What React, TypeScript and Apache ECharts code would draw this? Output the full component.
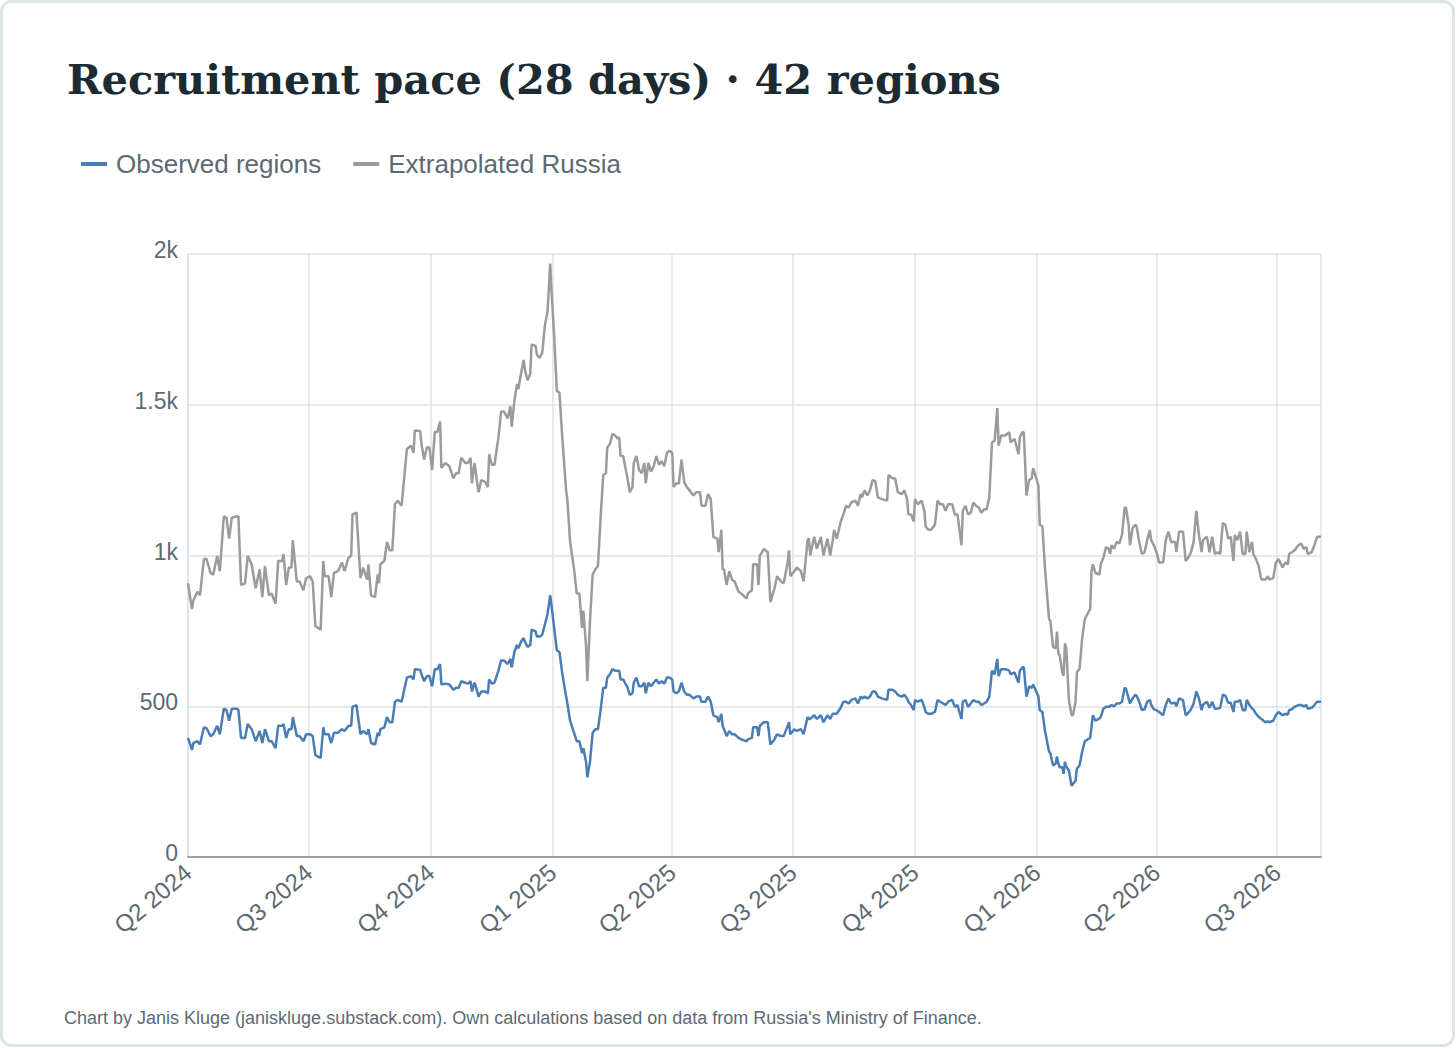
import React, { useEffect, useRef } from "react";
import * as echarts from "echarts";

// Day offsets from 1 Apr 2024
const dayOffsets = [
  0, 3, 4, 7, 9, 12, 14, 17, 19, 22, 24, 27, 29, 31, 33, 37, 38, 40, 43, 45, 48, 51, 54, 56, 58, 61, 63, 66, 68, 71, 72, 74, 76, 78, 79, 82, 84, 87, 89, 92, 94, 96, 98, 100,
  102, 103, 106, 108, 110, 113, 116, 118, 121, 123, 124, 127, 128, 130, 132, 135, 136, 138, 141, 143, 144, 145, 148, 150, 152, 154, 156, 158, 161, 163, 165, 168, 170, 171, 175, 176, 178, 180, 182, 184, 186, 188, 190, 191, 194, 197,
  200, 202, 204, 206, 209, 211, 213, 214, 216, 218, 219, 221, 224, 226, 227, 229, 231, 234, 236, 238, 241, 243, 244, 246, 248, 249, 251, 253, 254, 256, 258, 259, 262, 263, 265, 267, 269, 271, 273, 274, 276, 278, 280, 282, 285, 286, 288, 291, 293, 295, 297, 298,
  300, 301, 303, 305, 307, 309, 311, 313, 315, 316, 318, 320, 322, 324, 325, 326, 328, 330, 331, 333, 335, 336, 338, 340, 342, 344, 345, 347, 349, 351, 353, 355, 357, 359, 361, 363, 365, 366, 368, 370, 372, 374, 376, 378, 381, 383, 386, 387, 390, 392, 394, 396, 399,
  400, 402, 403, 404, 406, 408, 410, 412, 415, 417, 421, 422, 425, 426, 429, 430, 431, 434, 437, 439, 442, 444, 447, 449, 452, 453, 454, 457, 459, 462, 464, 467, 468, 469, 472, 474, 477, 479, 482, 484, 486, 487, 489, 492, 494, 496, 498,
  500, 503, 505, 507, 508, 510, 512, 514, 516, 518, 520, 523, 527, 528, 531, 533, 535, 538, 540, 542, 543, 545, 547, 548, 550, 553, 555, 556, 558, 560, 563, 565, 567, 569, 571, 573, 576, 578, 580, 581, 583, 584, 586, 588, 590, 592, 594, 596, 598,
  600, 602, 604, 606, 608, 610, 611, 613, 616, 619, 620, 623, 626, 627, 629, 630, 632, 634, 636, 637, 641, 642, 644, 646, 649, 650, 652, 654, 655, 656, 657, 659, 660, 661, 662, 664, 666, 667, 669, 670, 672, 674, 676, 678, 680, 681, 682, 684, 687, 688, 690, 692, 694, 695, 696, 698,
  700, 702, 704, 706, 707, 709, 710, 712, 714, 715, 717, 719, 721, 723, 725, 726, 728, 730, 732, 735, 737, 739, 741, 744, 745, 747, 750, 752, 754, 756, 758, 760, 762, 764, 765, 768, 770, 772, 774, 776, 778, 780, 782, 784, 786, 788, 789, 791, 793, 795, 797, 798,
  800, 802, 803, 805, 807, 809, 812, 814, 815, 818, 820, 822, 825, 827, 829, 830, 832, 834, 837, 839, 841, 843, 844, 847, 849, 851, 854,
];

// Extrapolated Russia (grey)
const extrapolatedRussia = [
  908, 822, 851, 880, 868, 988, 988, 942, 936, 999, 948, 1130, 1125, 1056, 1125, 1130, 1130, 902, 908, 999, 970, 891, 954, 862, 965, 868, 874, 840, 982, 982, 1005, 902, 960, 960, 1051, 914, 914, 885, 925, 931, 914, 766, 760, 754,
  982, 931, 931, 862, 942, 948, 977, 948, 993, 999, 1136, 1142, 1068, 925, 960, 920, 971, 868, 862, 937, 908, 971, 982, 1045, 1017, 1017, 1170, 1182, 1165, 1261, 1353, 1364, 1341, 1415, 1412, 1370, 1318, 1358, 1358, 1284, 1410, 1410, 1444, 1290, 1307, 1296,
  1256, 1273, 1273, 1324, 1307, 1307, 1324, 1239, 1307, 1239, 1210, 1250, 1244, 1227, 1336, 1301, 1301, 1392, 1478, 1478, 1455, 1495, 1427, 1512, 1569, 1552, 1603, 1649, 1615, 1581, 1603, 1700, 1695, 1666, 1655, 1672, 1763, 1809, 1968, 1877, 1729, 1546, 1540, 1398, 1216, 1182, 1046, 955, 874, 874, 760, 817,
  703, 583, 782, 937, 954, 965, 1125, 1267, 1273, 1358, 1370, 1404, 1398, 1387, 1393, 1330, 1330, 1284, 1261, 1210, 1227, 1307, 1330, 1284, 1273, 1307, 1239, 1307, 1278, 1296, 1330, 1301, 1313, 1296, 1341, 1347, 1341, 1227, 1239, 1239, 1318, 1244, 1227, 1216, 1199, 1210, 1210, 1165, 1165, 1204, 1187, 1062, 1056,
  1011, 1085, 954, 954, 902, 948, 920, 914, 880, 874, 857, 874, 885, 971, 971, 902, 999, 1022, 1011, 845, 891, 931, 914, 908, 977, 1017, 931, 948, 960, 948, 914, 1051, 1057, 1000, 1062, 1022, 1062, 1000, 1056, 1000, 1051, 1085, 1056, 1113, 1136, 1165, 1159,
  1176, 1182, 1165, 1204, 1193, 1216, 1199, 1216, 1250, 1247, 1193, 1187, 1182, 1267, 1256, 1256, 1210, 1204, 1216, 1187, 1136, 1136, 1113, 1187, 1170, 1182, 1148, 1097, 1085, 1085, 1102, 1182, 1170, 1170, 1148, 1170, 1170, 1136, 1136, 1102, 1034, 1148, 1165, 1136, 1142, 1176, 1165, 1159, 1142,
  1153, 1153, 1193, 1375, 1381, 1489, 1364, 1398, 1398, 1409, 1375, 1387, 1336, 1392, 1409, 1409, 1199, 1250, 1256, 1290, 1233, 1102, 1097, 955, 789, 783, 697, 692, 748, 675, 669, 612, 601, 709, 692, 521, 470, 470, 516, 612, 624, 726, 789, 806, 823, 948, 971, 942, 937, 971, 993, 1028, 1022, 1005, 1034, 1022,
  1045, 1040, 1068, 1159, 1159, 1102, 1034, 1091, 1102, 1096, 1045, 1005, 1011, 1051, 1085, 1051, 1034, 1011, 977, 977, 1051, 1079, 1045, 1045, 1011, 1079, 1079, 982, 993, 1011, 1045, 1148, 1068, 1011, 1051, 1062, 1011, 1062, 1005, 1011, 1005, 1108, 1102, 1056, 1062, 982, 1068, 1051, 1079, 1005, 1005, 1079,
  1011, 1045, 1005, 988, 965, 920, 920, 931, 920, 925, 977, 988, 960, 977, 971, 1005, 1011, 1017, 1034, 1040, 1022, 1028, 1005, 1011, 1034, 1062, 1062,
];

// Observed regions (blue)
const observedRegions = [
  395, 355, 378, 384, 373, 430, 427, 401, 407, 435, 407, 492, 487, 452, 492, 492, 487, 395, 395, 441, 424, 384, 418, 378, 424, 384, 384, 361, 435, 435, 441, 395, 424, 424, 464, 401, 401, 384, 407, 407, 401, 338, 333, 329,
  430, 407, 407, 378, 412, 412, 424, 418, 435, 435, 498, 504, 470, 407, 418, 407, 424, 378, 373, 412, 401, 424, 430, 464, 447, 447, 515, 521, 515, 555, 595, 600, 589, 623, 621, 606, 583, 600, 600, 566, 623, 623, 640, 572, 575, 572,
  555, 561, 561, 583, 578, 575, 583, 549, 578, 549, 532, 549, 549, 543, 589, 575, 578, 618, 652, 652, 640, 657, 629, 680, 703, 692, 714, 726, 714, 697, 703, 754, 748, 731, 731, 737, 771, 806, 868, 834, 760, 686, 680, 612, 532, 509, 452, 412, 384, 384, 344, 361,
  316, 264, 316, 412, 424, 424, 487, 561, 561, 595, 606, 623, 618, 618, 618, 589, 589, 572, 566, 538, 543, 578, 595, 566, 566, 578, 543, 578, 566, 578, 589, 575, 583, 575, 595, 595, 589, 549, 543, 549, 578, 549, 538, 538, 526, 532, 532, 515, 515, 532, 515, 470, 464,
  447, 475, 435, 424, 401, 418, 407, 407, 395, 390, 384, 390, 395, 430, 430, 401, 435, 447, 447, 373, 390, 407, 401, 401, 435, 447, 407, 424, 418, 424, 407, 464, 458, 458, 470, 458, 470, 447, 470, 458, 475, 475, 475, 495, 515, 515, 509,
  521, 526, 509, 532, 526, 532, 526, 532, 549, 549, 532, 526, 521, 555, 555, 549, 538, 532, 538, 526, 515, 504, 487, 521, 515, 521, 498, 481, 475, 475, 481, 521, 515, 510, 504, 515, 521, 498, 504, 487, 458, 515, 521, 498, 509, 521, 515, 515, 504,
  509, 515, 532, 618, 606, 657, 600, 623, 623, 618, 606, 612, 578, 618, 629, 629, 532, 566, 561, 572, 532, 487, 481, 418, 350, 344, 304, 310, 333, 310, 298, 298, 276, 316, 300, 287, 236, 242, 253, 293, 304, 350, 384, 390, 395, 430, 470, 452, 460, 465, 492, 498, 498, 500, 504, 500,
  509, 509, 515, 561, 558, 526, 509, 526, 538, 535, 515, 487, 490, 515, 521, 505, 490, 487, 481, 470, 504, 526, 509, 512, 500, 526, 520, 470, 478, 490, 509, 549, 526, 487, 505, 515, 495, 515, 492, 492, 495, 538, 535, 512, 512, 481, 515, 515, 521, 487, 487, 521,
  505, 492, 490, 475, 465, 458, 447, 450, 447, 452, 470, 481, 470, 475, 472, 487, 490, 498, 504, 504, 500, 504, 492, 495, 504, 515, 515,
];

const legendNames = ["Observed regions", "Extrapolated Russia"];
const yTicks = [0, 500, 1000, 1500, 2000];

const toTime = (d: number) => new Date(2024, 3, 1 + d).getTime();

export default function App() {
  const ref = useRef<HTMLDivElement>(null);

  useEffect(() => {
    if (!ref.current) return;
    const chart = echarts.init(ref.current, null, { renderer: "svg" });
    const obs = dayOffsets.map((d, i) => [toTime(d), observedRegions[i]]);
    const ext = dayOffsets.map((d, i) => [toTime(d), extrapolatedRussia[i]]);
    const DAY = 86400000;
    const sans = "'Liberation Sans', Arial, sans-serif";

    chart.setOption({
      animation: false,
      backgroundColor: "#ffffff",
      title: {
        text: "Recruitment pace (28 days) · 42 regions",
        left: 62,
        top: 53,
        textStyle: {
          fontFamily: "'DejaVu Serif', serif",
          fontWeight: "bold",
          fontSize: 41.5,
          color: "#1b2b31",
        },
      },
      legend: {
        data: legendNames,
        left: 76,
        top: 146,
        icon: "rect",
        itemWidth: 26,
        itemHeight: 4,
        itemGap: 32,
        textStyle: {
          fontFamily: sans,
          fontSize: 26,
          color: "#5d6a72",
          padding: [0, 0, 0, 4],
        },
      },
      grid: { left: 188, right: 135, top: 254, bottom: 191, containLabel: false },
      xAxis: {
        type: "time",
        min: toTime(0),
        max: toTime(dayOffsets[dayOffsets.length - 1]),
        minInterval: 89 * DAY,
        maxInterval: 92 * DAY,
        axisLine: { show: true, lineStyle: { color: "#9aa2a8", width: 2 } },
        axisTick: { show: false },
        splitLine: { show: true, lineStyle: { color: "#dde3e8", width: 1.5 } },
        axisLabel: {
          rotate: 40,
          margin: 12,
          fontFamily: sans,
          fontSize: 24,
          color: "#5d6a72",
          showMaxLabel: false,
          formatter: (v: number) => {
            const d = new Date(v);
            return "Q" + (Math.floor(d.getMonth() / 3) + 1) + " " + d.getFullYear();
          },
        },
      },
      yAxis: {
        type: "value",
        min: yTicks[0],
        max: yTicks[yTicks.length - 1],
        interval: 500,
        axisLine: { show: false },
        axisTick: { show: false },
        splitLine: { show: true, lineStyle: { color: "#dde3e8", width: 1.5 } },
        axisLabel: {
          margin: 10,
          formatter: (v: number) => "{a|" + (v >= 1000 ? v / 1000 + "k" : String(v)) + "}",
          rich: {
            a: {
              fontFamily: sans,
              fontSize: 23,
              color: "#5d6a72",
              padding: [0, 0, 8, 0],
            },
          },
        },
      },
      series: [
        {
          name: legendNames[0],
          type: "line",
          data: obs,
          showSymbol: false,
          symbol: "none",
          color: "#4a7db3",
          lineStyle: { width: 2.5, color: "#4a7db3" },
          z: 3,
        },
        {
          name: legendNames[1],
          type: "line",
          data: ext,
          showSymbol: false,
          symbol: "none",
          color: "#9b9b9b",
          lineStyle: { width: 2.5, color: "#9b9b9b" },
          z: 2,
        },
      ],
      graphic: [
        {
          type: "rect",
          shape: { x: 1.5, y: 1.5, width: 1452, height: 1044, r: 10 },
          style: { fill: "none", stroke: "#dfe4e4", lineWidth: 3 },
          silent: true,
          z: -1,
        },
        {
          type: "text",
          left: 64,
          top: 1009,
          style: {
            text: "Chart by Janis Kluge (janiskluge.substack.com). Own calculations based on data from Russia's Ministry of Finance.",
            font: "18px 'Liberation Sans', Arial, sans-serif",
            fill: "#5d6a72",
          },
        },
      ],
    });

    return () => chart.dispose();
  }, []);

  return (
    <div
      ref={ref}
      style={{ position: "absolute", left: 0, top: 0, width: 1456, height: 1048 }}
    />
  );
}
